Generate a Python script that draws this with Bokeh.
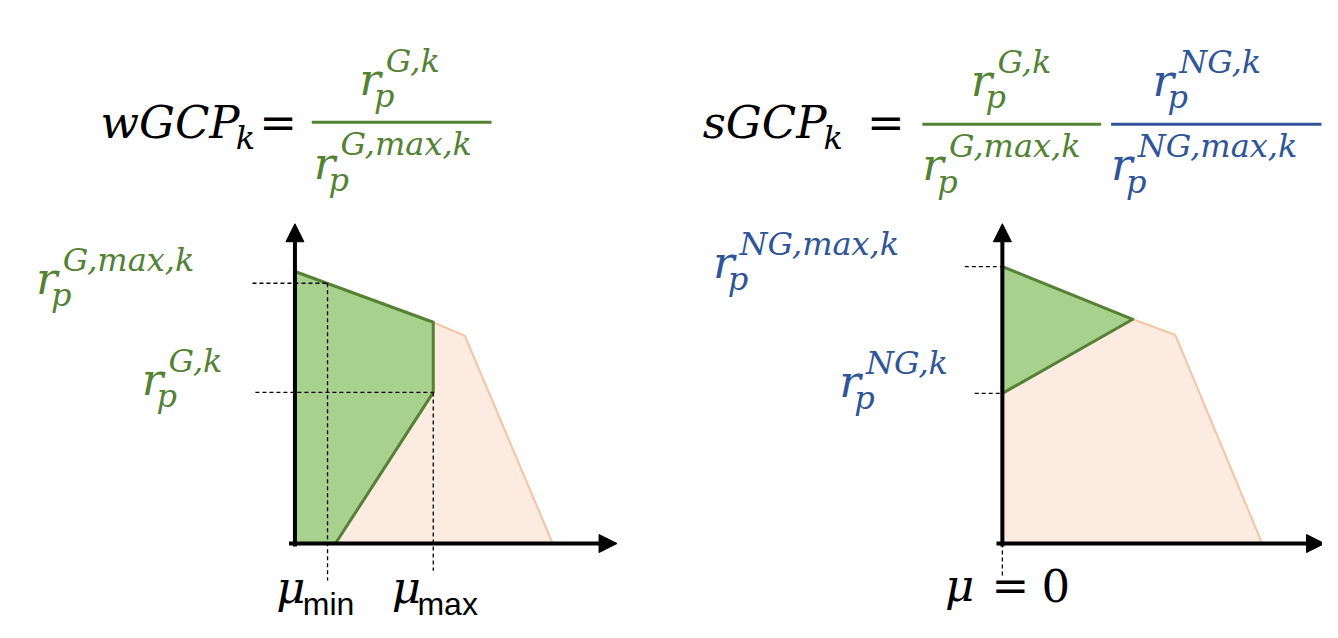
from bokeh.plotting import figure
from bokeh.layouts import row
from bokeh.models import Range1d, Arrow, NormalHead
from bokeh.core.properties import value
from bokeh.embed import file_html
from bokeh.resources import INLINE

# ---------------- data (panel units, origin = axis corner) ----------------
# left panel (wGCP)
left_frontier_mu = [0, 140, 172, 261]
left_frontier_r = [279, 227, 213, 0]
left_green_mu = [0, 0, 140, 140, 41]
left_green_r = [0, 279, 227, 155, 0]
mu_min = 33
mu_max = 140
r_G = 155
r_G_max = 267

# right panel (sGCP)
right_frontier_mu = [0, 132, 175, 263]
right_frontier_r = [284, 230, 214, 0]
right_green_mu = [0, 132, 0]
right_green_r = [284, 230, 154]
r_NG = 154
r_NG_max = 284
mu_zero = 0

# ---------------- styles ----------------
GREEN_TXT = "#548235"
BLUE_TXT = "#2F5597"
GREEN_FILL = "#A9D18E"
GREEN_LINE = "#548235"
ORANGE_FILL = "#FBEBE1"
ORANGE_LINE = "#F6C3A0"
MATH_FONT = "DejaVu Serif"
SANS_FONT = "Liberation Sans"

W, H = 661, 622          # each panel in px
REF_W, REF_H = 669, 638  # each panel in reference units
S = W / REF_W
BIG = round(46 * S)
SMALL = round(32 * S)
BASE_FIX = 0.38          # baseline correction (fraction of font size)


def make_panel(x0, origin):
    ox, oy = origin
    p = figure(width=W, height=H, output_backend="svg", toolbar_location=None,
               x_axis_type=None, y_axis_type=None,
               x_range=Range1d(x0 - ox, x0 + REF_W - ox),
               y_range=Range1d(oy - REF_H, oy),
               min_border=0, outline_line_color=None,
               background_fill_color="white", border_fill_color="white")
    p.grid.visible = False
    return p


def txt(p, origin, x, base, s, size, color, style="italic", font=MATH_FONT, align="left"):
    ox, oy = origin
    p.text(x=[x - ox], y=[oy - base + BASE_FIX * size / S], text=[s], text_font=value(font),
           text_font_size=f"{size}px", text_color=color, text_font_style=style,
           text_align=align, text_baseline="alphabetic")


def rsym(p, origin, x, base, sup, color):
    txt(p, origin, x, base, "r", BIG, color)
    txt(p, origin, x + 15, base + 12, "p", SMALL, color)
    txt(p, origin, x + 27, base - 24, sup, SMALL, color)


def hline(p, origin, x1, x2, y, color, width=3):
    ox, oy = origin
    p.line(x=[x1 - ox, x2 - ox], y=[oy - y, oy - y], line_color=color, line_width=width)


def axes(p):
    p.add_layout(Arrow(end=NormalHead(size=18, fill_color="black", line_color="black", line_width=1),
                       x_start=-6, y_start=0, x_end=326, y_end=0,
                       line_width=4, line_color="black"))
    p.add_layout(Arrow(end=NormalHead(size=18, fill_color="black", line_color="black", line_width=1),
                       x_start=0, y_start=-3, x_end=0, y_end=328,
                       line_width=4, line_color="black"))


dash = dict(line_color="black", line_width=1.3, line_dash="4 3")

# ================= LEFT PANEL =================
LO = (298, 557)
pl = make_panel(0, LO)
pl.patch([0] + left_frontier_mu, [0] + left_frontier_r, fill_color=ORANGE_FILL,
         line_color=None)
pl.line(left_frontier_mu, left_frontier_r, line_color=ORANGE_LINE, line_width=2)
pl.patch(left_green_mu, left_green_r, fill_color=GREEN_FILL, line_color=GREEN_LINE,
         line_width=3, line_join="round")
pl.segment(x0=[-43, mu_min, -40, mu_max], y0=[r_G_max, r_G_max, r_G, r_G],
           x1=[mu_min, mu_min, mu_max, mu_max], y1=[r_G_max, -38, r_G, -28], **dash)
axes(pl)

# formula
txt(pl, LO, 242, 142, "wGCP", BIG, "black", align="right")
txt(pl, LO, 238, 153, "k", SMALL, "black")
txt(pl, LO, 281, 142, "=", BIG, "black", style="normal", align="center")
hline(pl, LO, 315, 497, 125, GREEN_LINE)
rsym(pl, LO, 363, 98, "G,k", GREEN_TXT)
rsym(pl, LO, 317, 184, "G,max,k", GREEN_TXT)

# labels
rsym(pl, LO, 36, 302, "G,max,k", GREEN_TXT)
rsym(pl, LO, 143, 406, "G,k", GREEN_TXT)
txt(pl, LO, 279, 619, "μ", BIG, "black")
txt(pl, LO, 306, 631, "min", 32, "black", style="normal", font=SANS_FONT)
txt(pl, LO, 396, 619, "μ", BIG, "black")
txt(pl, LO, 422, 631, "max", 32, "black", style="normal", font=SANS_FONT)

# ================= RIGHT PANEL =================
RO = (1014, 557)
pr = make_panel(669, RO)
pr.patch([0] + right_frontier_mu, [0] + right_frontier_r, fill_color=ORANGE_FILL,
         line_color=None)
pr.line(right_frontier_mu, right_frontier_r, line_color=ORANGE_LINE, line_width=2)
pr.patch(right_green_mu, right_green_r, fill_color=GREEN_FILL, line_color=GREEN_LINE,
         line_width=3, line_join="round")
pr.segment(x0=[-38, -28, mu_zero], y0=[r_NG_max, r_NG, 0],
           x1=[mu_zero, mu_zero, mu_zero], y1=[r_NG_max, r_NG, -33], **dash)
axes(pr)

# formula
txt(pr, RO, 836, 142, "sGCP", BIG, "black", align="right")
txt(pr, RO, 833, 153, "k", SMALL, "black")
txt(pr, RO, 896, 142, "=", BIG, "black", style="normal", align="center")
hline(pr, RO, 933, 1114, 127, GREEN_LINE)
hline(pr, RO, 1124, 1337, 127, BLUE_TXT)
rsym(pr, RO, 982, 99, "G,k", GREEN_TXT)
rsym(pr, RO, 1166, 99, "NG,k", BLUE_TXT)
rsym(pr, RO, 933, 186, "G,max,k", GREEN_TXT)
rsym(pr, RO, 1124, 186, "NG,max,k", BLUE_TXT)

# labels
rsym(pr, RO, 721, 286, "NG,max,k", BLUE_TXT)
rsym(pr, RO, 849, 408, "NG,k", BLUE_TXT)
txt(pr, RO, 956, 617, "μ", BIG, "black")
txt(pr, RO, 1022, 617, "=", BIG, "black", style="normal", align="center")
txt(pr, RO, 1068, 617, "0", BIG, "black", style="normal", align="center")

layout = row(pl, pr, spacing=0)
open("out.html", "w").write(file_html(layout, INLINE))
